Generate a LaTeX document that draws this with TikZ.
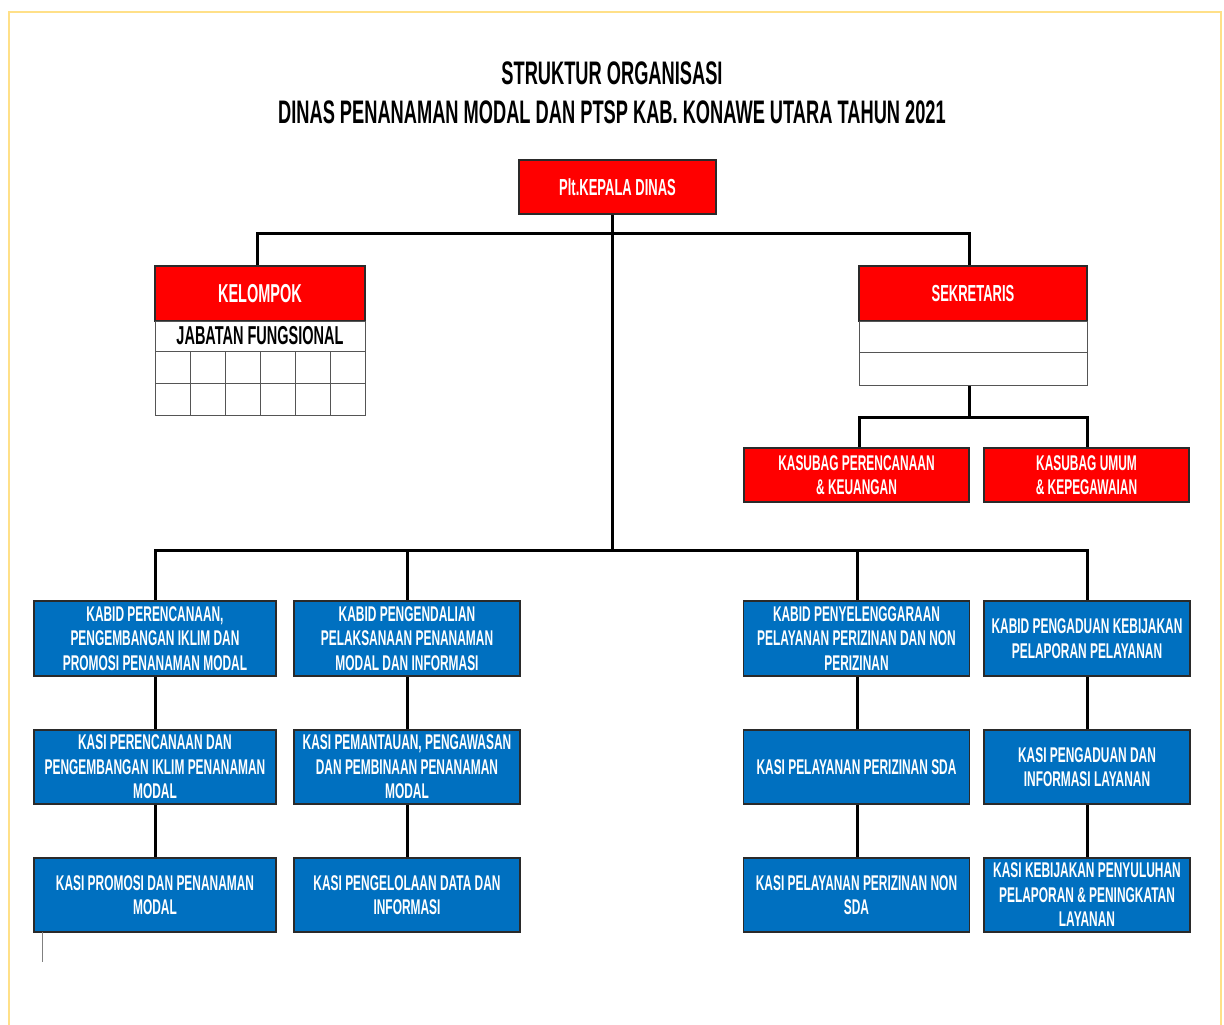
\documentclass[tikz,border=0pt]{standalone}
\usepackage{fontspec}
\newfontfamily\cf[FakeStretch=0.56]{Liberation Sans}
\definecolor{redbox}{HTML}{FF0000}
\definecolor{bluebox}{HTML}{0070C0}
\definecolor{frameyellow}{HTML}{FFE088}
\definecolor{edge}{HTML}{2A2A2A}
\begin{document}
\begin{tikzpicture}[x=1pt,y=-1pt,
  box/.style={draw=edge,line width=1.4pt,inner sep=0pt,outer sep=0pt,align=center},
  redhead/.style={box,fill=redbox,text=white,font=\cf\bfseries\fontsize{23.2}{25}\selectfont},
  redsub/.style={box,fill=redbox,text=white,font=\cf\bfseries\fontsize{21.3}{24}\selectfont},
  bluebx/.style={box,fill=bluebox,text=white,font=\cf\bfseries\fontsize{21.3}{24.5}\selectfont},
  whiterow/.style={box,fill=white,draw=edge!80,line width=1pt},
  conn/.style={line width=3pt,black,line cap=rect},
  titlefont/.style={font=\cf\bfseries\fontsize{32.6}{38}\selectfont}]
\useasboundingbox (0,0) rectangle (1224,1025);
% outer frame
\draw[frameyellow,line width=2.5pt] (9,12) rectangle (1221,1040);

% title
\node[titlefont,anchor=center] (t1) at (612,73) {STRUKTUR ORGANISASI};
\node[titlefont,anchor=center] (t2) at (612,112) {DINAS PENANAMAN MODAL DAN PTSP KAB. KONAWE UTARA TAHUN 2021};

% junction coordinates
\coordinate (tb) at (612,233);
\coordinate (jct) at (612,550);
\coordinate (sb) at (969,417);

% connectors (drawn first, boxes on top)
\draw[conn] (612,214) -- (jct);
\draw[conn] (257,266) -- (257,233) -- (969,233) -- (969,266);
\draw[conn] (969,385) -- (sb);
\draw[conn] (859,448) -- (859,417) -- (1087,417) -- (1087,448);
\draw[conn] (155,601) -- (155,550) -- (1087,550) -- (1087,601);
\draw[conn] (407,550) -- (407,601);
\draw[conn] (857,550) -- (857,601);
\foreach \cx in {155,407,857,1087}{
  \draw[conn] (\cx,676) -- (\cx,730);
  \draw[conn] (\cx,804) -- (\cx,858);
}

% head
\node[redhead,minimum width=197pt,minimum height=54pt] (kd) at (617.5,187) {Plt.KEPALA DINAS};

% kelompok jabatan fungsional
\node[redhead,minimum width=210pt,minimum height=55pt,font=\cf\bfseries\fontsize{25.9}{26}\selectfont] (kel) at (260,293.5) {KELOMPOK};
\node[whiterow,minimum width=210pt,minimum height=30pt,text=black,font=\cf\bfseries\fontsize{25.9}{26}\selectfont] (jab) at (260,336) {JABATAN FUNGSIONAL};
\foreach \i in {0,...,5}{
  \draw[edge!80,line width=1pt,fill=white] (155+35*\i,351) rectangle (190+35*\i,383);
  \draw[edge!80,line width=1pt,fill=white] (155+35*\i,383) rectangle (190+35*\i,415);
}

% sekretaris
\node[redhead,minimum width=228pt,minimum height=55pt] (sek) at (973,293.5) {SEKRETARIS};
\node[whiterow,minimum width=228pt,minimum height=31pt] (sek1) at (973,336.5) {};
\node[whiterow,minimum width=228pt,minimum height=33pt] (sek2) at (973,368.5) {};

% kasubag
\node[redsub,minimum width=225pt,minimum height=54pt] (kas1) at (856.5,475) {KASUBAG PERENCANAAN\\\& KEUANGAN};
\node[redsub,minimum width=205pt,minimum height=54pt] (kas2) at (1086.5,475) {KASUBAG UMUM\\\& KEPEGAWAIAN};

% bidang columns
\node[bluebx,minimum width=242pt,minimum height=75pt] (b11) at (155,638.5) {KABID PERENCANAAN,\\PENGEMBANGAN IKLIM DAN\\PROMOSI PENANAMAN MODAL};
\node[bluebx,minimum width=242pt,minimum height=74pt] (b12) at (155,767) {KASI PERENCANAAN DAN\\PENGEMBANGAN IKLIM PENANAMAN\\MODAL};
\node[bluebx,minimum width=242pt,minimum height=74pt] (b13) at (155,895) {KASI PROMOSI DAN PENANAMAN\\MODAL};

\node[bluebx,minimum width=226pt,minimum height=75pt] (b21) at (407,638.5) {KABID PENGENDALIAN\\PELAKSANAAN PENANAMAN\\MODAL DAN INFORMASI};
\node[bluebx,minimum width=226pt,minimum height=74pt] (b22) at (407,767) {KASI PEMANTAUAN, PENGAWASAN\\DAN PEMBINAAN PENANAMAN\\MODAL};
\node[bluebx,minimum width=226pt,minimum height=74pt] (b23) at (407,895) {KASI PENGELOLAAN DATA DAN\\INFORMASI};

\node[bluebx,minimum width=226pt,minimum height=75pt] (b31) at (856.5,638.5) {KABID PENYELENGGARAAN\\PELAYANAN PERIZINAN DAN NON\\PERIZINAN};
\node[bluebx,minimum width=226pt,minimum height=74pt] (b32) at (856.5,767) {KASI PELAYANAN PERIZINAN SDA};
\node[bluebx,minimum width=226pt,minimum height=74pt] (b33) at (856.5,895) {KASI PELAYANAN PERIZINAN NON\\SDA};

\node[bluebx,minimum width=206pt,minimum height=75pt] (b41) at (1087,638.5) {KABID PENGADUAN KEBIJAKAN\\PELAPORAN PELAYANAN};
\node[bluebx,minimum width=206pt,minimum height=74pt] (b42) at (1087,767) {KASI PENGADUAN DAN\\INFORMASI LAYANAN};
\node[bluebx,minimum width=206pt,minimum height=74pt] (b43) at (1087,895) {KASI KEBIJAKAN PENYULUHAN\\PELAPORAN \& PENINGKATAN\\LAYANAN};

% small stray mark
\draw[gray,line width=0.8pt] (42,932) -- (42,962);
\end{tikzpicture}
\end{document}
